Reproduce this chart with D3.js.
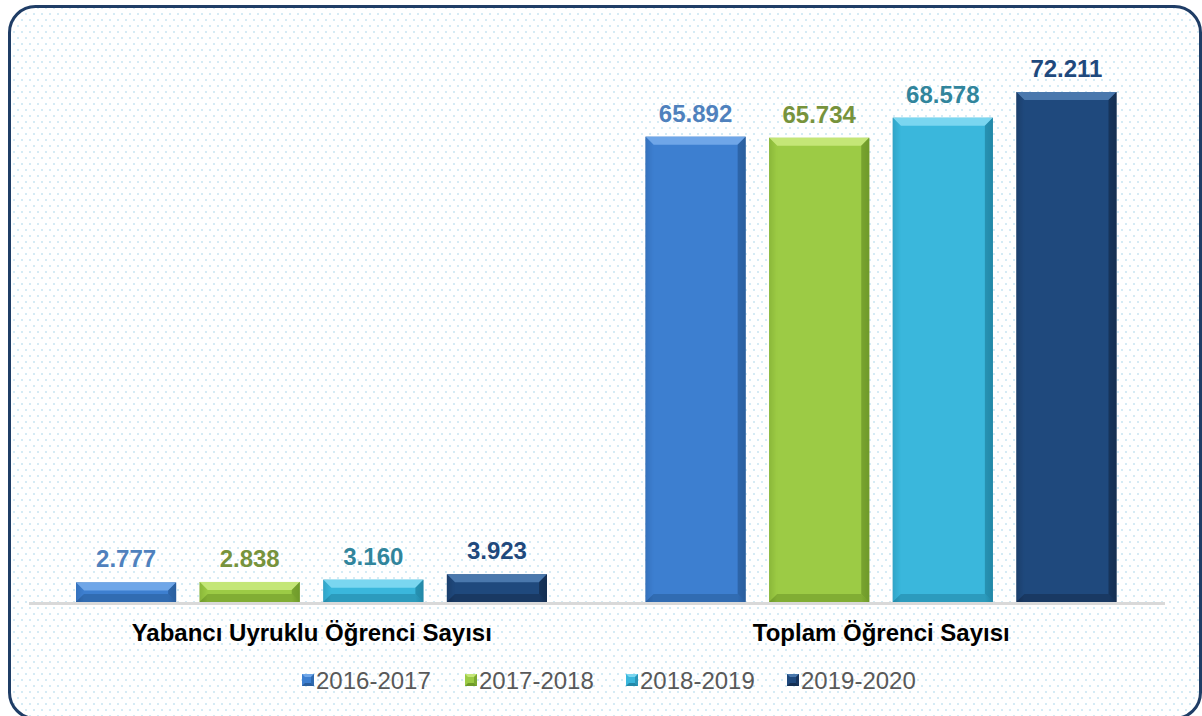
<!DOCTYPE html>
<html><head><meta charset="utf-8">
<script src="https://cdn.jsdelivr.net/npm/d3@7"></script>
<style>html,body{margin:0;padding:0;background:#fff;}svg{display:block;}</style>
</head><body>
<script>
const categories = ["Yabancı Uyruklu Öğrenci Sayısı", "Toplam Öğrenci Sayısı"];
const seriesNames = ["2016-2017", "2017-2018", "2018-2019", "2019-2020"];
const values2016 = [2777, 65892];
const values2017 = [2838, 65734];
const values2018 = [3160, 68578];
const values2019 = [3923, 72211];
const seriesValues = [values2016, values2017, values2018, values2019];

const colors = [
  {base:"#3d7fd0", light:"#6fa6e8", dark:"#2a5f9f", label:"#4f81bd"},
  {base:"#9ccb45", light:"#c4e677", dark:"#6f9a2a", label:"#77933c"},
  {base:"#3ab7dc", light:"#7ad6f0", dark:"#2388a8", label:"#31859c"},
  {base:"#1f497d", light:"#4a78ad", dark:"#152f52", label:"#1f497d"}
];

const W = 1202, H = 716;
const svg = d3.select("body").append("svg").attr("width", W).attr("height", H);
const defs = svg.append("defs");
const pat = defs.append("pattern").attr("id","dots").attr("patternUnits","userSpaceOnUse")
  .attr("width",8).attr("height",12);
pat.append("rect").attr("width",8).attr("height",12).attr("fill","#fff");
pat.append("rect").attr("x",1).attr("y",1).attr("width",2).attr("height",2).attr("fill","#d5ebf5");
pat.append("rect").attr("x",5).attr("y",7).attr("width",2).attr("height",2).attr("fill","#d5ebf5");

colors.forEach((c,i)=>{
  const g = defs.append("linearGradient").attr("id","g"+i).attr("x1",0).attr("x2",1).attr("y1",0).attr("y2",0);
  g.append("stop").attr("offset","0%").attr("stop-color",c.dark);
  g.append("stop").attr("offset","8%").attr("stop-color",c.base);
  g.append("stop").attr("offset","92%").attr("stop-color",c.base);
  g.append("stop").attr("offset","100%").attr("stop-color",c.dark);
});

svg.append("rect").attr("x",9.5).attr("y",6.5).attr("width",1191).attr("height",712)
  .attr("rx",26).attr("ry",26).attr("fill","url(#dots)").attr("stroke","#1f3d66").attr("stroke-width",3);

const baseY = 602;
const y = d3.scaleLinear().domain([0, 80000]).range([baseY, baseY - 80000*0.007062]);
const x0 = d3.scaleBand().domain(categories).range([27, 1166]).padding(0);
const x1 = d3.scaleBand().domain(seriesNames).range([49, 520]).paddingInner(0.19).paddingOuter(0);

function bevelBar(g, x, top, w, h, i){
  const c = colors[i];
  const b = Math.min(8, h/2);
  g.append("rect").attr("x",x).attr("y",top).attr("width",w).attr("height",h).attr("fill","url(#g"+i+")");
  g.append("path").attr("d",`M${x},${top}L${x+w},${top}L${x+w-b},${top+b}L${x+b},${top+b}Z`).attr("fill",c.light);
  g.append("path").attr("d",`M${x},${top}L${x+b},${top+b}L${x+b},${top+h-b}L${x},${top+h}Z`).attr("fill",c.base).attr("opacity",0.6);
  g.append("path").attr("d",`M${x+w},${top}L${x+w-b},${top+b}L${x+w-b},${top+h-b}L${x+w},${top+h}Z`).attr("fill",c.dark).attr("opacity",0.8);
  g.append("path").attr("d",`M${x},${top+h}L${x+b},${top+h-b}L${x+w-b},${top+h-b}L${x+w},${top+h}Z`).attr("fill",c.dark).attr("opacity",0.6);
}

svg.append("line").attr("x1",29).attr("x2",1165).attr("y1",baseY+1.5).attr("y2",baseY+1.5)
  .attr("stroke","#d9d9d9").attr("stroke-width",3);

const FONT = "Liberation Sans, Arial, sans-serif";
const gBars = svg.append("g");
categories.forEach((cat,ci)=>{
  seriesNames.forEach((s,si)=>{
    const v = seriesValues[si][ci];
    const xx = x0(cat) + x1(s);
    const top = y(v);
    bevelBar(gBars, xx, top, x1.bandwidth(), baseY - top, si);
    svg.append("text").attr("x", xx + x1.bandwidth()/2).attr("y", top - 15)
      .attr("text-anchor","middle").attr("font-family",FONT)
      .attr("font-size",24).attr("font-weight","bold").attr("fill",colors[si].label)
      .text(d3.format(",")(v).replace(/,/g,"."));
  });
  svg.append("text").attr("x", x0(cat) + x0.bandwidth()/2).attr("y", 641)
    .attr("text-anchor","middle").attr("font-family",FONT)
    .attr("font-size",24).attr("font-weight","bold").attr("fill","#000").text(cat);
});

const legX = [302, 465, 626, 787];
seriesNames.forEach((s,i)=>{
  const g = svg.append("g").attr("transform",`translate(${legX[i]},674)`);
  bevelBarSmall(g, i);
  g.append("text").attr("x",14).attr("y",15).attr("font-family",FONT)
    .attr("font-size",24).attr("fill","#595959").text(s);
});
function bevelBarSmall(g,i){
  const c = colors[i];
  g.append("rect").attr("x",0).attr("y",0).attr("width",12).attr("height",12).attr("fill",c.base);
  g.append("path").attr("d","M0,0L12,0L9,3L3,3Z").attr("fill",c.light);
  g.append("path").attr("d","M0,12L3,9L9,9L12,12Z").attr("fill",c.dark);
  g.append("path").attr("d","M12,0L9,3L9,9L12,12Z").attr("fill",c.dark).attr("opacity",0.7);
}
</script>
</body></html>
